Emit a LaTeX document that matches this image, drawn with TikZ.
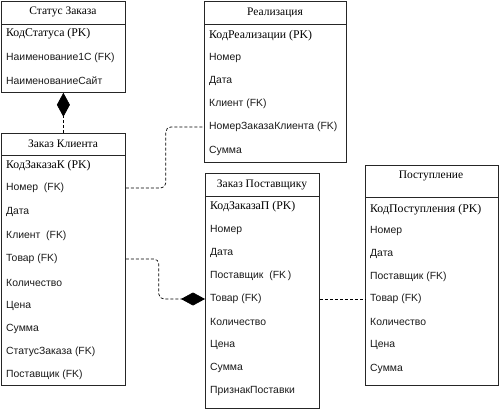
\documentclass[tikz,border=0pt]{standalone}
\usepackage{fontspec}
\setmainfont{Liberation Serif}
\setsansfont{Liberation Sans}
\usetikzlibrary{arrows.meta}
\begin{document}
\begin{tikzpicture}[x=1pt,y=-1pt,
  entity/.style={draw=black!85, line width=0.8pt, inner sep=0pt, anchor=north west},
  sepline/.style={draw=black!85, line width=0.8pt},
  titletext/.style={font=\fontsize{11.5}{13}\selectfont\rmfamily, inner sep=0pt},
  pkrow/.style={font=\fontsize{11.8}{13}\selectfont\rmfamily, anchor=west, inner sep=0pt},
  row/.style={font=\fontsize{10.4}{12}\sffamily, anchor=west, inner sep=0pt, text=black!90},
  conn/.style={draw=black, line width=0.7pt, dash pattern=on 3pt off 2pt},
  dia/.style={-{Diamond[length=24pt,width=13pt,fill=black]}}
]
\useasboundingbox (0,0) rectangle (499,412);

% Статус Заказа
\node[entity, minimum width=124pt, minimum height=91pt] (status) at (1,1) {};
\draw[sepline] (1,24) -- (125,24);
\node[titletext] (statusT) at (63,12) {Статус Заказа};
\node[pkrow] (s1) at (6,34) {КодСтатуса (PK)};
\node[row] (s2) at (6,58) {Наименование1С (FK)};
\node[row] (s3) at (6,81) {НаименованиеСайт};

% Заказ Клиента
\node[entity, minimum width=124pt, minimum height=252pt] (klient) at (1,133) {};
\draw[sepline] (1,155) -- (125,155);
\node[titletext] (klientT) at (63,144) {Заказ Клиента};
\node[pkrow] (k1) at (6,166) {КодЗаказаК (PK)};
\node[row] (k2) at (6,188) {Номер\ \ (FK)};
\node[row] (k3) at (6,212) {Дата};
\node[row] (k4) at (6,236) {Клиент\ \ (FK)};
\node[row] (k5) at (6,259) {Товар (FK)};
\node[row] (k6) at (6,283) {Количество};
\node[row] (k7) at (6,306) {Цена};
\node[row] (k8) at (6,329) {Сумма};
\node[row] (k9) at (6,352) {СтатусЗаказа (FK)};
\node[row] (k10) at (6,375) {Поставщик (FK)};

% Реализация
\node[entity, minimum width=142pt, minimum height=161pt] (real) at (204,1) {};
\draw[sepline] (204,24) -- (346,24);
\node[titletext] (realT) at (275,13) {Реализация};
\node[pkrow] (r1) at (209,36) {КодРеализации (PK)};
\node[row] (r2) at (209,58) {Номер};
\node[row] (r3) at (209,81) {Дата};
\node[row] (r4) at (209,104) {Клиент (FK)};
\node[row] (r5) at (209,127) {НомерЗаказаКлиента (FK)};
\node[row] (r6) at (209,151) {Сумма};

% Заказ Поставщику
\node[entity, minimum width=114pt, minimum height=235pt] (zp) at (205,173) {};
\draw[sepline] (205,196) -- (319,196);
\node[titletext] (zpT) at (262,185) {Заказ Поставщику};
\node[pkrow] (z1) at (210,207) {КодЗаказаП (PK)};
\node[row] (z2) at (210,230) {Номер};
\node[row] (z3) at (210,253) {Дата};
\node[row] (z4) at (210,276) {Поставщик\ \ (FK\,)};
\node[row] (z5) at (210,299) {Товар (FK)};
\node[row] (z6) at (210,322) {Количество};
\node[row] (z7) at (210,345) {Цена};
\node[row] (z8) at (210,368) {Сумма};
\node[row] (z9) at (210,391) {ПризнакПоставки};

% Поступление
\node[entity, minimum width=133pt, minimum height=220pt] (post) at (365,165) {};
\draw[sepline] (365,197) -- (498,197);
\node[titletext] (postT) at (431,176) {Поступление};
\node[pkrow] (p1) at (370,210) {КодПоступления (PK)};
\node[row] (p2) at (370,231) {Номер};
\node[row] (p3) at (370,254) {Дата};
\node[row] (p4) at (370,277) {Поставщик (FK)};
\node[row] (p5) at (370,299) {Товар (FK)};
\node[row] (p6) at (370,322) {Количество};
\node[row] (p7) at (370,345) {Цена};
\node[row] (p8) at (370,369) {Сумма};

% connectors
\draw[conn, dia] (klient.north) -- (status.south);
\draw[conn, rounded corners=5pt] (klient.east |- k2) -- ([xshift=40pt]klient.east |- k2) |- (real.west |- r5);
\draw[conn, rounded corners=5pt, dia] (klient.east |- k5) -- ([xshift=33pt]klient.east |- k5) |- (zp.west |- z5);
\draw[conn] (zp.east |- z5) -- (post.west |- p5);
\end{tikzpicture}
\end{document}
